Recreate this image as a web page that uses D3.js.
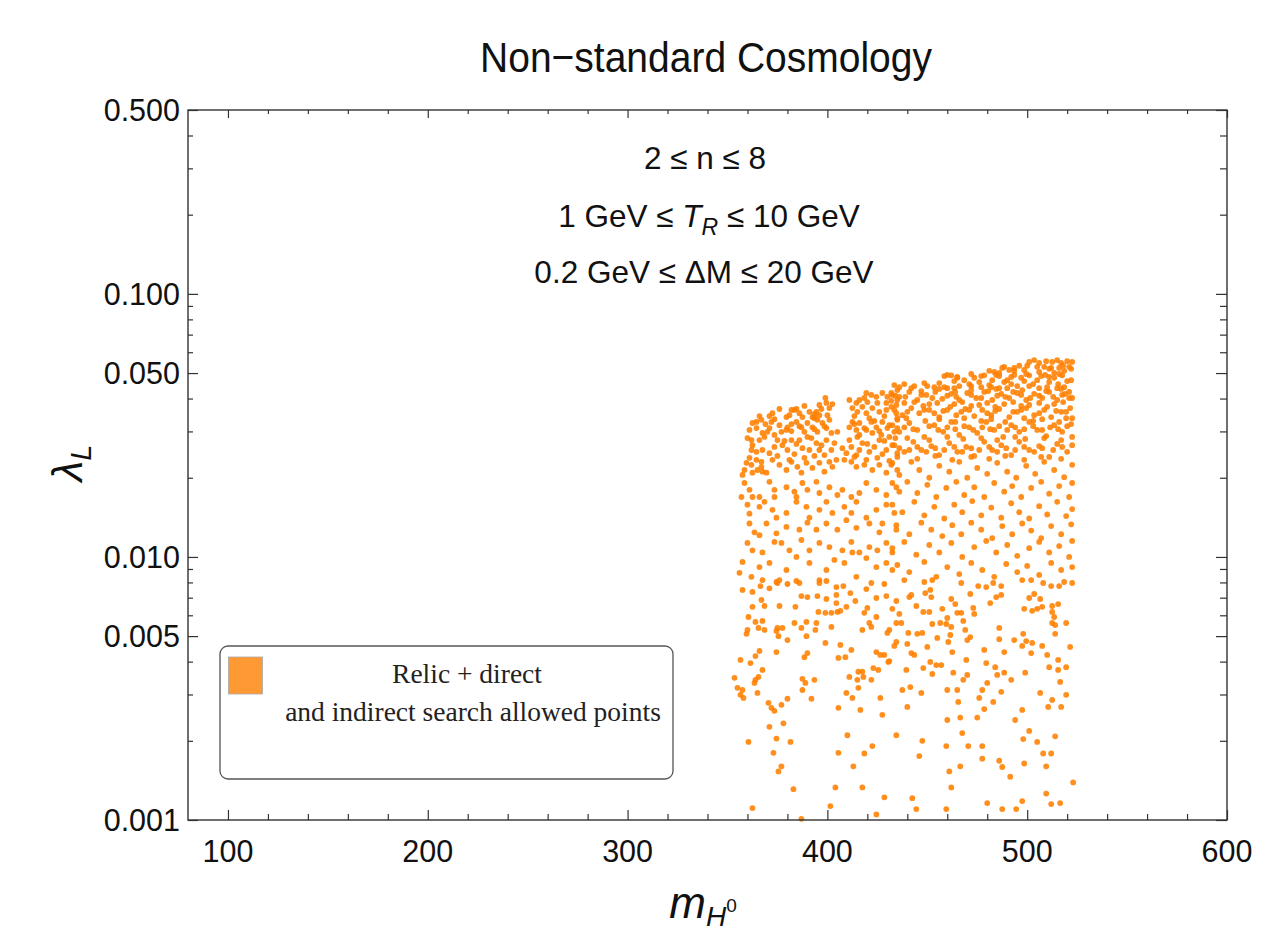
<!DOCTYPE html>
<html>
<head>
<meta charset="utf-8">
<script src="https://cdn.jsdelivr.net/npm/d3@7"></script>
<style>
  html, body { margin: 0; padding: 0; background: #fff; }
  svg { display: block; }
</style>
</head>
<body>
<div id="chart"></div>
<script>
// axis ticks
const xMajorTicks = [100, 200, 300, 400, 500, 600];
const xMinorTicks = [120, 140, 160, 180, 220, 240, 260, 280, 320, 340, 360, 380,
                     420, 440, 460, 480, 520, 540, 560, 580];
const yMajorTicks = [0.001, 0.005, 0.01, 0.05, 0.1, 0.5];
const yTickLabels = ['0.001', '0.005', '0.010', '0.050', '0.100', '0.500'];
const yMinorTicks = [0.002, 0.003, 0.004, 0.006, 0.007, 0.008, 0.009,
                     0.02, 0.03, 0.04, 0.06, 0.07, 0.08, 0.09, 0.2, 0.3, 0.4];

// scan conditions printed inside the frame
const conditionLines = ['2 ≤ n ≤ 8', '1 GeV ≤ T_R ≤ 10 GeV', '0.2 GeV ≤ ΔM ≤ 20 GeV'];
const legendLines = ['Relic + direct', 'and indirect search allowed points'];

// allowed points [m_H0 (GeV), lambda_L]
// upper left part of the cloud (m_H0 < 437, lambda > 0.008)
const ptsUpperLeft = [
  [399,.0402],[414.5,.0385],[416,.0395],[419.5,.0420],[422,.0413],[424.5,.0406],[427.5,.0420],[430,.0406],[432.5,.0413],[435,.0395],[425,.0385],[420,.0388],[429.5,.0385],
  [412.5,.0368],[415,.0356],[417.5,.0372],[419.5,.0352],[422.5,.0368],[426,.0356],[429.5,.0362],[432,.0372],[434.5,.0352],[382,.0362],[384.5,.0365],[391,.0356],[394.5,.0356],[399.5,.0385],[401,.0368],[400,.0346],[396,.0346],[392.5,.0340],[387.5,.0340],[379.5,.0340],[364.5,.0326],[371,.0343],[381,.0346],
  [362.5,.0323],[367.5,.0296],[370,.0299],[373.5,.0291],[376,.0317],[377,.0299],[379.5,.0304],[380,.0311],[384.5,.0326],[387,.0311],[388.5,.0299],[390,.0323],[392.5,.0311],[395,.0299],[397.5,.0323],[399.5,.0309],[401,.0332],[402,.0296],[411,.0311],[412.5,.0326],[416,.0323],[419.5,.0304],[422,.0326],[424.5,.0311],[427.5,.0326],[430,.0309],[433.5,.0299],[416,.0291],[422.5,.0296],[427,.0291],[431,.0286],
  [360,.0283],[362,.0255],[362.5,.0266],[366,.0278],[367.5,.0255],[371,.0248],[375,.0278],[377.5,.0266],[380,.0255],[382,.0278],[386,.0278],[387.5,.0259],[392,.0283],[394.5,.0271],[396,.0255],[399.5,.0278],[402,.0255],[403.5,.0271],[409.5,.0248],[412,.0262],[416,.0255],[417.5,.0271],[421,.0251],[423.5,.0262],[426,.0278],[429.5,.0255],[432.5,.0266],[435,.0248],
  [358.5,.0214],[359.5,.0228],[362,.0224],[364.5,.0234],[365,.0214],[367,.0220],[369.5,.0209],[372.5,.0234],[376,.0224],[379.5,.0214],[382,.0230],[385,.0220],[387,.0209],[389.5,.0228],[392.5,.0218],[396,.0228],[398.5,.0211],[402.5,.0220],[404.5,.0234],[412,.0230],[414.5,.0220],[419.5,.0234],[422.5,.0214],[426,.0224],[429.5,.0209],[432.5,.0228],[435,.0214],[357.5,.0205],[367.5,.0211],[362.5,.0209],
  [357,.0169],[358.5,.0191],[361,.0180],[362.5,.0169],[366,.0169],[371,.0193],[373.5,.0180],[379.5,.0184],[383.5,.0177],[387.5,.0191],[390,.0180],[394.5,.0193],[396,.0175],[401,.0184],[405,.0172],[407.5,.0180],[412,.0169],[416,.0175],[419.5,.0191],[424.5,.0180],[429.5,.0172],[432.5,.0191],[436,.0177],[373.5,.0169],[384.5,.0169],
  [360,.0158],[361,.0146],[366,.0155],[368.5,.0162],[372.5,.0151],[374.5,.0141],[379.5,.0147],[384.5,.0162],[389.5,.0155],[391,.0141],[396,.0151],[399.5,.0162],[402.5,.0147],[408.5,.0155],[412,.0147],[414.5,.0162],[419.5,.0141],[424.5,.0151],[429.5,.0158],[433.5,.0147],
  [361,.0134],[363.5,.0124],[369.5,.0134],[374.5,.0123],[379.5,.0130],[386,.0127],[390,.0135],[394.5,.0127],[399.5,.0134],[405,.0127],[409.5,.0138],[414.5,.0129],[421,.0134],[427.5,.0134],[426,.0124],[434.5,.0127],[366,.0121],
  [360,.0113],[362.5,.0106],[367.5,.0104],[373.5,.0114],[377,.0113],[381,.0106],[387,.0116],[391,.0106],[396,.0113],[401,.0109],[407.5,.0106],[412,.0114],[416,.0104],[421,.0109],[425,.0106],[429.5,.0113],[432.5,.0104],
  [357.5,.00957],[362,.00840],[366,.00915],[371,.00949],[375,.00796],[379.5,.00892],[384.5,.0100],[386,.00796],[391,.00949],[396,.00817],[399.5,.00892],[403.5,.00974],[408.5,.00949],[412.5,.0104],[414.5,.00840],[419.5,.00990],[424.5,.00915],[429.5,.00949],[432.5,.00892],[356,.00870],[367.5,.00817],
  [411,.0395],[418.5,.0402],[432,.0392],[396,.0378],[402.5,.0381],
  [366,.0343],[373.5,.0334],[386,.0352],[393.5,.0337],[413.5,.0343],[421,.0337],[428.5,.0343],[435,.0337],
  [361,.0304],[371,.0309],[382,.0301],[393.5,.0306],[405,.0299],[414.5,.0304],[426,.0301],
  [364.5,.0251],[373.5,.0262],[383.5,.0246],[391,.0255],[398.5,.0244],[407.5,.0259],[414.5,.0244],[427.5,.0246],
  [383.5,.0362],[388.5,.0375],[393.5,.0349],[397,.0365],[372.5,.0352],[376,.0365],[367,.0332],
  [364.5,.0309],[369,.0320],[372,.0326],[382,.0320],[386,.0314],[395,.0332],[398.5,.0314],[413.5,.0320],[418.5,.0309],[423.5,.0329],[431,.0317],[435,.0309],
  [362,.0278],[368.5,.0286],[378.5,.0276],[384.5,.0269],[390,.0286],[397,.0266],[411,.0278],[415,.0286],[420,.0269],[428.5,.0276],[434,.0283],
  [361,.0238],[367,.0230],[375,.0242],[381,.0234],[388.5,.0238],[393.5,.0242],[401,.0230],[408.5,.0234],[413.5,.0240],[418.5,.0224],[425,.0238],[431,.0232]
];

// upper right part of the cloud (m_H0 > 432, lambda > 0.008)
const ptsUpperRight = [
  [501,.0551],[503.5,.0560],[506,.0546],[509.5,.0555],[512.5,.0551],[515,.0560],[517,.0546],[520,.0555],[522.5,.0551],[496,.0533],[491,.0514],[487.5,.0523],[483.5,.0505],[481,.0510],[508.5,.0528],[516,.0523],[521,.0528],
  [458.5,.0487],[462,.0490],[465,.0480],[468.5,.0470],[473.5,.0480],[478.5,.0490],[482.5,.0470],[486,.0487],[490,.0470],[493.5,.0492],[497,.0480],[501,.0490],[505,.0470],[509,.0492],[513.5,.0480],[517.5,.0490],[522,.0470],
  [433.5,.0450],[438.5,.0454],[443.5,.0446],[448.5,.0458],[453.5,.0442],[460,.0438],[466,.0446],[477,.0442],[486,.0438],[495,.0446],[506,.0438],[518.5,.0442],
  [432,.0420],[436,.0406],[441,.0424],[445,.0395],[449.5,.0413],[454,.0424],[457.5,.0399],[462,.0417],[466,.0395],[470,.0420],[474.5,.0402],[478.5,.0424],[482.5,.0395],[487,.0417],[491,.0402],[495,.0420],[499.5,.0395],[503.5,.0417],[507.5,.0402],[511,.0424],[515,.0395],[519,.0417],[522.5,.0402],
  [438.5,.0385],[451,.0381],[463.5,.0381],[476,.0378],[488.5,.0381],[501,.0378],[513.5,.0381],
  [433.5,.0362],[437.5,.0346],[442,.0368],[446,.0352],[451,.0362],[456,.0340],[460,.0362],[464.5,.0346],[469,.0365],[473.5,.0343],[477.5,.0362],[482,.0346],[486,.0365],[491,.0340],[495,.0356],[499.5,.0368],[503.5,.0346],[508.5,.0362],[512,.0340],[517,.0356],[521.5,.0368],[522.5,.0337],
  [432.5,.0317],[436,.0299],[441,.0323],[445,.0304],[448.5,.0286],[453.5,.0317],[458,.0299],[462,.0326],[466,.0291],[471,.0311],[475,.0296],[479.5,.0326],[483.5,.0304],[488,.0286],[492,.0317],[496,.0299],[501,.0326],[505,.0304],[509.5,.0288],[513.5,.0317],[517.5,.0299],[522,.0320],[522.5,.0286],
  [433.5,.0266],[438.5,.0251],[443,.0274],[447,.0255],[452,.0264],[456,.0244],[461,.0271],[465,.0251],[469.5,.0262],[473.5,.0242],[478.5,.0274],[482.5,.0255],[487,.0266],[492,.0244],[496,.0274],[501,.0255],[506,.0264],[511,.0240],[515,.0269],[520,.0251],[522.5,.0266],
  [432,.0224],[436,.0205],[442,.0230],[446,.0214],[451,.0200],[456,.0222],[461,.0211],[466,.0230],[470,.0200],[475,.0218],[480,.0207],[485,.0228],[490,.0211],[494.5,.0200],[499.5,.0222],[504,.0207],[508.5,.0230],[513.5,.0214],[518.5,.0201],[522.5,.0224],
  [434.5,.0184],[440,.0193],[445,.0175],[450,.0188],[454.5,.0169],[459.5,.0183],[464.5,.0193],[468.5,.0172],[473.5,.0184],[478.5,.0169],[483.5,.0191],[488.5,.0177],[492.5,.0186],[497,.0169],[502,.0183],[507,.0193],[511,.0174],[516,.0186],[521,.0169],[522.5,.0191],
  [432.5,.0158],[437.5,.0148],[443.5,.0162],[448.5,.0144],[453.5,.0155],[458.5,.0140],[463.5,.0158],[467.5,.0148],[472.5,.0163],[477,.0144],[482,.0154],[487,.0141],[492,.0160],[496,.0148],[501,.0140],[506,.0156],[510,.0145],[515,.0162],[519.5,.0143],[522.5,.0152],
  [434.5,.0132],[441,.0122],[447,.0135],[452,.0127],[457.5,.0120],[462.5,.0132],[467,.0122],[472,.0135],[477,.0127],[482.5,.0118],[487.5,.0131],[492.5,.0122],[497.5,.0134],[502,.0126],[507,.0118],[512,.0131],[517,.0122],[522,.0133],
  [432.5,.0108],[438.5,.0114],[444.5,.0102],[451,.0111],[456,.0104],[462,.0113],[467.5,.0100],[473.5,.0109],[479.5,.0115],[484.5,.0104],[490,.0111],[495,.0101],[501,.0108],[506,.0114],[511,.0104],[516,.0110],[521,.0100],[522.5,.0115],
  [435,.00932],[441,.00876],[448.5,.00957],[454.5,.00840],[460,.00915],[466,.00861],[472,.00949],[477.5,.00892],[483.5,.00840],[489.5,.00940],[495,.00876],[500,.00924],[506,.00854],[512,.00949],[517,.00892],[522.5,.00915],
  [498.5,.0514],[511,.0519],[518.5,.0510],[486,.0501],[493.5,.0510],[506,.0505],[513.5,.0501],
  [456,.0458],[463.5,.0466],[471,.0454],[476,.0462],[481,.0450],[488.5,.0462],[492,.0454],[498.5,.0466],[503,.0454],[511,.0462],[515.5,.0454],[520,.0466],
  [435,.0431],[447,.0427],[456,.0435],[464,.0424],[472,.0431],[480.5,.0427],[484.5,.0435],[493,.0424],[497.5,.0431],[509.5,.0427],[517,.0435],[521,.0424],
  [434.5,.0378],[443.5,.0388],[448,.0375],[455,.0385],[461.5,.0372],[467.5,.0388],[472,.0375],[480,.0385],[484,.0372],[493,.0388],[497,.0375],[506,.0385],[510,.0372],[518,.0388],
  [435,.0332],[439.5,.0337],[449,.0329],[456,.0334],[464,.0326],[468.5,.0337],[477,.0329],[482,.0334],[489,.0326],[498.5,.0337],[503,.0329],[507.5,.0334],[516,.0326],[519.5,.0337],
  [440,.0283],[451,.0278],[460,.0286],[468,.0281],[477,.0283],[485,.0278],[494,.0286],[499,.0281],[508.5,.0283],[517,.0278],
  [435,.0240],[445,.0236],[454,.0242],[462.5,.0234],[472,.0240],[481,.0236],[489,.0242],[498.5,.0234],[507,.0240],[517,.0236],
  [488.5,.0528],[493.5,.0523],[500,.0533],[505,.0528],[512,.0523],[518,.0533],[522,.0519],
  [460,.0492],[465,.0483],[472,.0496],[477,.0487],[484.5,.0492],[492,.0483],[499.5,.0496],[507,.0487],[511,.0483],[516,.0496],
  [436,.0442],[442,.0438],[450,.0446],[458.5,.0442],[463.5,.0438],[472,.0446],[482,.0442],[490,.0438],[501,.0446],[510,.0442],[515,.0438],
  [434,.0410],[439,.0406],[447,.0413],[452.5,.0402],[460,.0410],[464.5,.0406],[472,.0413],[477,.0402],[485,.0410],[489,.0406],[497,.0413],[501.5,.0402],[506,.0410],[513,.0406],[517.5,.0413],[521,.0402],
  [440,.0356],[448.5,.0362],[453.5,.0352],[458,.0359],[467,.0356],[471,.0362],[480,.0352],[484,.0359],[493,.0356],[497,.0362],[506,.0352],[514.5,.0359],[519.5,.0356],
  [438.5,.0311],[443,.0306],[451,.0314],[455.5,.0304],[460,.0311],[464,.0306],[468.5,.0314],[473,.0304],[477.5,.0311],[481.5,.0306],[486,.0314],[490,.0304],[494,.0311],[498.5,.0306],[503,.0314],[507.5,.0304],[511.5,.0311],[515.5,.0306],[520,.0314],
  [436,.0259],[441,.0255],[445,.0262],[449.5,.0251],[454,.0259],[458.5,.0255],[463.5,.0262],[467.5,.0251],[472,.0259],[476,.0255],[481,.0262],[485,.0251],[489.5,.0259],[494,.0255],[498.5,.0262],[503.5,.0251],[507.5,.0259],[513,.0255],[517.5,.0262]
];

// lower left, sparse part (m_H0 < 437, lambda < 0.008)
const ptsLowerLeft = [
  [357.5,.00749],[362.5,.00736],[366.5,.00775],[371,.00760],[374.5,.00803],[376,.00817],[380,.00789],[384.5,.00810],[396,.00796],[399.5,.00810],[404.5,.00768],[404.5,.00717],[408,.00775],[411.5,.00729],[414,.00680],[419.5,.00755],[422,.00796],[424.5,.00698],[428.5,.00789],[429.5,.00710],[434.5,.00680],
  [362.5,.00646],[367,.00686],[368.5,.00651],[376,.00651],[384,.00646],[387,.00710],[390,.00704],[395,.00710],[399.5,.00692],[404.5,.00668],[395.5,.00618],[399,.00613],[402,.00613],[405,.00618],[406.5,.00624],[409.5,.00646],
  [360.5,.00591],[364,.00566],[367.5,.00571],[360,.00528],[359.5,.00510],[365.5,.00537],[368.5,.00528],[375,.00537],[374.5,.00523],[377.5,.00537],[375.5,.00500],[380,.00483],[383.5,.00561],[387,.00537],[389.5,.00566],[389.5,.00500],[394.5,.00561],[394,.00528],[402,.00542],[399,.00471],
  [418.5,.00613],[420,.00640],[424.5,.00591],[421,.00561],[422,.00542],[417.5,.00528],[431,.00528],[430,.00514],[432.5,.00635],[434.5,.00561],[434.5,.00475],[433.5,.00459],
  [366,.00439],[364,.00420],[356.5,.00406],[361.5,.00395],[367.5,.00372],[374.5,.00435],[388.5,.00416],[390,.00431],[406.5,.00463],[412,.00443],[405.5,.00413],[409,.00416],[424.5,.00435],[426.5,.00424],[428.5,.00424],[430.5,.00399],[423,.00378],[425.5,.00372],
  [353.5,.00347],[355,.00318],[357.5,.00312],[356.5,.00299],[358,.00291],[364,.00341],[365.5,.00350],[363.5,.00332],[365,.00304],[387.5,.00344],[389,.00332],[393.5,.00341],[387.5,.00312],[392,.00289],[380,.00289],[377,.00274],
  [411,.00350],[415.5,.00366],[417.5,.00366],[418,.00350],[415,.00341],[415.5,.00318],[422,.00341],[409.5,.00304],[412.5,.00291],[426.5,.00291],
  [370.5,.00279],[372,.00267],[373.5,.00260],[405.5,.00267],[416.5,.00262],[427.5,.00251],[371,.00226],[378,.00233],[360.5,.00198],[374.5,.00204],[381.5,.00198],[373,.00180],
  [410,.00210],[434.5,.00210],[405.5,.00180],[418.5,.00179],[422.5,.00191],[377,.00160],[375.5,.00153],[413,.00160],[383,.00131],[404,.00133],[417.5,.00133],[428.5,.00122],
  [362.5,.00111],[401.5,.00113],[424.5,.00105],[387,.00101]
];

// lower right, sparse part (m_H0 > 436, lambda < 0.008)
const ptsLowerRight = [
  [438.5,.00817],[448.5,.00803],[452.5,.00817],[467,.00796],[475.5,.00775],[479.5,.00768],[483,.00796],[487,.00775],[497.5,.00817],[502,.00817],[508,.00796],[512,.00775],[516,.00775],[518.5,.00803],[522.5,.00796],
  [442,.00717],[441,.00704],[449,.00729],[451.5,.00749],[452,.00704],[471.5,.00723],[484.5,.00704],[487,.00717],[501,.00698],[503.5,.00723],[506.5,.00692],
  [444.5,.00651],[436,.00607],[448,.00618],[451,.00618],[457.5,.00635],[462,.00692],[464,.00662],[465,.00613],[460,.00586],[467,.00613],[468,.00571],[473,.00640],[473.5,.00607],[481.5,.00668],
  [498.5,.00635],[502.5,.00624],[505,.00635],[507.5,.00646],[512.5,.00651],[512.5,.00618],[513.5,.00591],[512.5,.00561],[514,.00551],[514,.00510],[515.5,.00662],[519.5,.00561],
  [437,.00561],[440.5,.00514],[445,.00510],[447.5,.00514],[452.5,.00556],[456.5,.00561],[459.5,.00556],[462,.00542],[461.5,.00505],[469,.00528],
  [440,.00467],[442,.00431],[443.5,.00424],[450,.00455],[455,.00492],[460.5,.00475],[462.5,.00435],[471.5,.00496],[470,.00483],[486,.00537],[486,.00487],[488.5,.00435],[493.5,.00483],[498,.00510],[499.5,.00479],[497.5,.00459],[502.5,.00471],[502,.00431],[507.5,.00459],[510,.00424],[521.5,.00455],
  [431,.00402],[439.5,.00372],[448,.00378],[451.5,.00399],[454.5,.00388],[457,.00388],[452.5,.00359],[463,.00363],[469.5,.00406],[470,.00356],[468,.00341],[478.5,.00443],[479.5,.00395],[484,.00381],[485,.00356],[488.5,.00363],[492,.00341],[499,.00363],[511,.00381],[515.5,.00406],[515.5,.00372],[519.5,.00381],[516.5,.00335],
  [437.5,.00312],[441.5,.00320],[447,.00304],[460,.00312],[465,.00312],[465.5,.00281],[477.5,.00312],[476,.00291],[480,.00332],[487,.00307],[483,.00281],[506.5,.00304],[512.5,.00286],[510.5,.00269],[519.5,.00299],[517,.00269],
  [440,.00269],[460,.00240],[466.5,.00245],[475,.00245],[478.5,.00264],[494,.00240],[497.5,.00262],
  [467.5,.00214],[447.5,.00200],[459.5,.00191],[470.5,.00191],[477.5,.00191],[498,.00203],[501,.00218],[505,.00198],[514,.00208],
  [446,.00175],[477.5,.00171],[508,.00179],[512,.00179],[461,.00153],[466.5,.00160],[486,.00168],[487.5,.00159],[498.5,.00164],[509.5,.00160],[491.5,.00146],
  [462,.00133],[523,.00139],[442.5,.00121],[480,.00116],[497.5,.00118],[509.5,.00126],[512,.00115],[516.5,.00116],[444.5,.00110],[459.5,.00110],[487.5,.00110],[494.5,.00110]
];

const allPoints = [].concat(ptsUpperLeft, ptsUpperRight, ptsLowerLeft, ptsLowerRight);

// layout
const W = 1277, H = 936;
const plot = { left: 188, right: 1227, top: 110, bottom: 820 };
const SANS = '"Liberation Sans", Arial, sans-serif';
const SERIF = '"Liberation Serif", "Times New Roman", serif';
const ORANGE = '#ff8000';
const INK = '#111';

const svg = d3.select('#chart').append('svg')
  .attr('width', W)
  .attr('height', H)
  .attr('viewBox', `0 0 ${W} ${H}`);

svg.append('rect').attr('width', W).attr('height', H).attr('fill', '#fff');

const x = d3.scaleLinear().domain([80, 600]).range([plot.left, plot.right]);
const y = d3.scaleLog().domain([0.001, 0.5]).range([plot.bottom, plot.top]);

// points (drawn first so the frame sits on top)
svg.append('g')
  .selectAll('circle')
  .data(allPoints)
  .join('circle')
  .attr('cx', d => x(d[0]))
  .attr('cy', d => y(d[1]))
  .attr('r', 2.9)
  .attr('fill', ORANGE)
  .attr('fill-opacity', 0.88);

// inward ticks on all four sides; labels drawn separately below
function tickAxis(axis, tx, ty) {
  svg.append('g')
    .attr('transform', `translate(${tx},${ty})`)
    .call(axis.tickFormat(''))
    .call(g => {
      g.select('.domain').remove();
      g.selectAll('line').attr('stroke', '#333').attr('stroke-width', 1.2);
      g.selectAll('text').remove();
    });
}
tickAxis(d3.axisBottom(x).tickValues(xMajorTicks).tickSize(-10), 0, plot.bottom);
tickAxis(d3.axisBottom(x).tickValues(xMinorTicks).tickSize(-6), 0, plot.bottom);
tickAxis(d3.axisTop(x).tickValues(xMajorTicks).tickSize(-8), 0, plot.top);
tickAxis(d3.axisTop(x).tickValues(xMinorTicks).tickSize(-4), 0, plot.top);
tickAxis(d3.axisLeft(y).tickValues(yMajorTicks).tickSize(-10), plot.left, 0);
tickAxis(d3.axisLeft(y).tickValues(yMinorTicks).tickSize(-5), plot.left, 0);
tickAxis(d3.axisRight(y).tickValues(yMajorTicks).tickSize(-11), plot.right, 0);
tickAxis(d3.axisRight(y).tickValues(yMinorTicks).tickSize(-7), plot.right, 0);

// tick labels
svg.append('g')
  .selectAll('text')
  .data(xMajorTicks)
  .join('text')
  .attr('x', d => x(d))
  .attr('y', 862)
  .attr('text-anchor', 'middle')
  .attr('font-family', SANS)
  .attr('font-size', 30.5)
  .attr('fill', INK)
  .text(d => d);

svg.append('g')
  .selectAll('text')
  .data(yMajorTicks)
  .join('text')
  .attr('x', plot.left - 8)
  .attr('y', d => y(d) + 11)
  .attr('text-anchor', 'end')
  .attr('font-family', SANS)
  .attr('font-size', 30.5)
  .attr('fill', INK)
  .text((d, i) => yTickLabels[i]);

// frame
svg.append('rect')
  .attr('x', plot.left)
  .attr('y', plot.top)
  .attr('width', plot.right - plot.left)
  .attr('height', plot.bottom - plot.top)
  .attr('fill', 'none')
  .attr('stroke', '#333')
  .attr('stroke-width', 1.4);

// title (slightly taller glyphs than the stock font)
svg.append('text')
  .attr('transform', 'translate(706,72) scale(1,1.1)')
  .attr('text-anchor', 'middle')
  .attr('font-family', SANS)
  .attr('font-size', 39)
  .attr('fill', INK)
  .text('Non\u2212standard Cosmology');

// condition lines
const cond = svg.append('g')
  .attr('font-family', SANS)
  .attr('font-size', 31.5)
  .attr('fill', INK)
  .attr('text-anchor', 'middle');

cond.append('text').attr('x', 705).attr('y', 169).text(conditionLines[0]);

const tr = conditionLines[1].split('T_R');
const line2 = cond.append('text').attr('x', 709).attr('y', 227);
line2.append('tspan').text(tr[0]);
line2.append('tspan').attr('font-style', 'italic').text('T');
line2.append('tspan').attr('font-style', 'italic').attr('font-size', 23).attr('dy', 8).text('R');
line2.append('tspan').attr('dy', -8).text(tr[1]);

cond.append('text').attr('x', 704).attr('y', 283).text(conditionLines[2]);

// axis titles
const xl = svg.append('text')
  .attr('x', 703)
  .attr('y', 918)
  .attr('text-anchor', 'middle')
  .attr('font-family', SANS)
  .attr('font-size', 44)
  .attr('font-style', 'italic')
  .attr('fill', INK);
xl.append('tspan').text('m');
xl.append('tspan').attr('font-size', 28).attr('dy', 8).text('H');
xl.append('tspan').attr('font-size', 19).attr('font-style', 'normal').attr('dy', -14).text('0');

const yl = svg.append('text')
  .attr('transform', 'translate(82,463) rotate(-90)')
  .attr('text-anchor', 'middle')
  .attr('font-family', SANS)
  .attr('font-size', 42)
  .attr('font-style', 'italic')
  .attr('fill', INK);
yl.append('tspan').text('λ');
yl.append('tspan').attr('font-size', 29).attr('dy', 9).text('L');

// legend
const legend = svg.append('g');
legend.append('rect')
  .attr('x', 220)
  .attr('y', 646)
  .attr('width', 453)
  .attr('height', 133)
  .attr('rx', 8)
  .attr('fill', '#fff')
  .attr('stroke', '#555')
  .attr('stroke-width', 1.3);
legend.append('rect')
  .attr('x', 228.5)
  .attr('y', 657)
  .attr('width', 34)
  .attr('height', 37)
  .attr('fill', '#ff9933')
  .attr('stroke', '#aaa')
  .attr('stroke-width', 0.8);
legend.append('text')
  .attr('x', 467)
  .attr('y', 683)
  .attr('text-anchor', 'middle')
  .attr('font-family', SERIF)
  .attr('font-size', 27.5)
  .attr('fill', '#222')
  .text(legendLines[0]);
legend.append('text')
  .attr('x', 473)
  .attr('y', 721)
  .attr('text-anchor', 'middle')
  .attr('font-family', SERIF)
  .attr('font-size', 27.5)
  .attr('fill', '#222')
  .text(legendLines[1]);
</script>
</body>
</html>
